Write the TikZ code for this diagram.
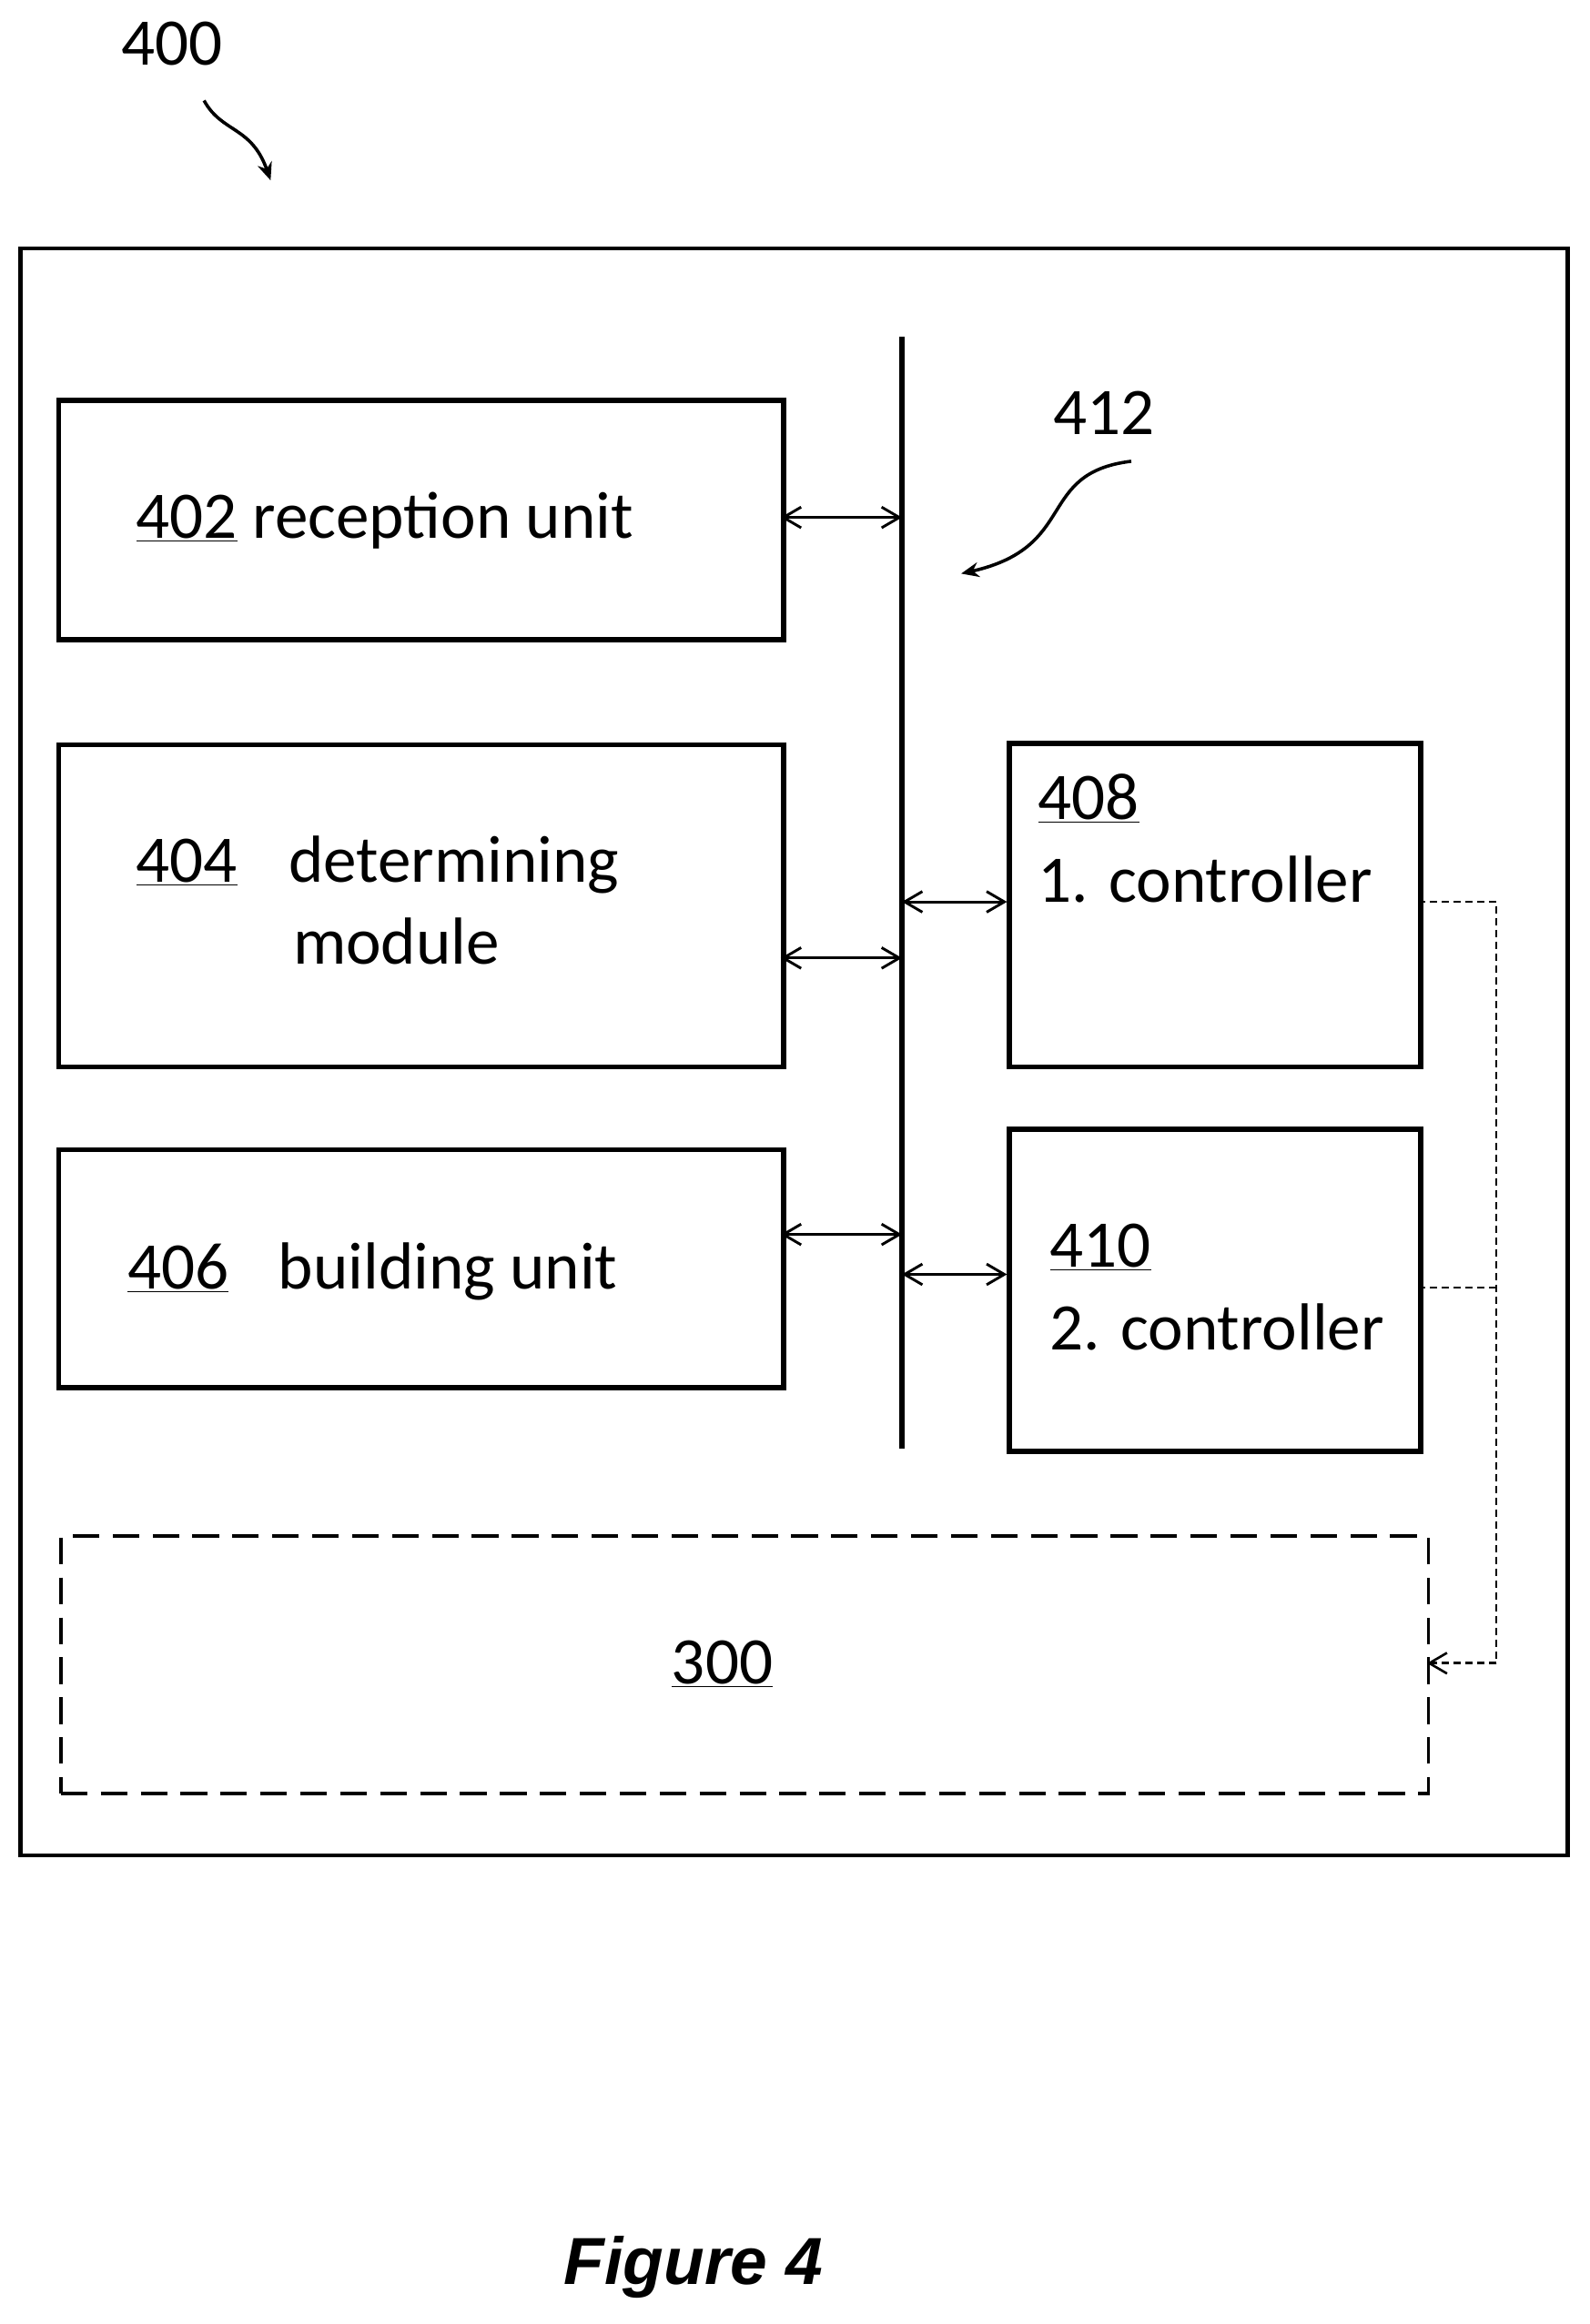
\documentclass[tikz,border=0pt]{standalone}
\usepackage{fontspec}
\setmainfont{Carlito}
\newfontfamily\arialf{Liberation Sans}
\usetikzlibrary{arrows.meta}
\begin{document}
\begin{tikzpicture}[x=1pt,y=-1pt,
  box/.style={draw,line width=3.5pt},
  lbl/.style={font=\fontsize{45}{50}\selectfont,inner sep=0pt,anchor=base west},
  bi/.style={line width=1.8pt,{Straight Barb[length=12pt,width=14pt]}-{Straight Barb[length=12pt,width=14pt]}},
  dsh/.style={line width=1.6pt,dash pattern=on 5pt off 3pt}]
\useasboundingbox (0,0) rectangle (1075,1572);
\draw[line width=3pt] (14,168) rectangle (1060,1255);
\node[box,minimum width=490,minimum height=162,anchor=north west] (b402) at (38,269) {};
\node[box,minimum width=490,minimum height=218,anchor=north west] (b404) at (38,502) {};
\node[box,minimum width=490,minimum height=161,anchor=north west] (b406) at (38,776) {};
\node[box,minimum width=278,minimum height=219,anchor=north west] (b408) at (681,501) {};
\node[box,minimum width=278,minimum height=218,anchor=north west] (b410) at (681,762) {};
\node[draw,line width=2.2pt,dash pattern=on 18pt off 9pt,minimum width=925,minimum height=174,anchor=north west] (b300) at (40,1038) {};
\node[lbl] (t402) at (92,364) {\underline{402} reception unit};
\node[lbl] (t404) at (92,597) {\underline{404}};
\node[lbl] (t404a) at (195,597) {determining};
\node[lbl] (t404b) at (198,652) {module};
\node[lbl] (t406) at (86,872) {\underline{406}};
\node[lbl] (t406b) at (188,872) {building unit};
\node[lbl] (t408) at (702,554) {\underline{408}};
\node[lbl] (t408b) at (702,610) {1. controller};
\node[lbl] (t410) at (710,857) {\underline{410}};
\node[lbl] (t410b) at (710,913) {2. controller};
\node[lbl] (t300) at (454,1139) {\underline{300}};
\node[lbl] (t412) at (712,294) {412};
\node[lbl] (t400) at (82,44) {400};
\node[inner sep=0pt,anchor=base] (fig) at (469,1545) {\arialf\bfseries\itshape\fontsize{45}{50}\selectfont Figure 4};
\coordinate (bt) at (610,228); \coordinate (bb) at (610,980);
\draw[line width=3.5pt] (bt) -- (bb);
\draw[bi] (528,350) -- (610,350);
\draw[bi] (528,648) -- (610,648);
\draw[bi] (528,835) -- (610,835);
\draw[bi] (610,610) -- (681,610);
\draw[bi] (610,862) -- (681,862);
\draw[dsh] (959,610) -- (1012,610) -- (1012,1125);
\draw[dsh] (959,871) -- (1012,871);
\draw[dsh,-{Straight Barb[length=12pt,width=14pt]}] (1012,1125) -- (965,1125);
\draw[line width=2.2pt,-{Stealth[length=12pt,width=10pt]}] (765,312) .. controls (700,320) and (730,370) .. (650,388);
\draw[line width=2.2pt,-{Stealth[length=12pt,width=10pt]}] (138,68) .. controls (150,90) and (170,85) .. (183,122);
\end{tikzpicture}
\end{document}
